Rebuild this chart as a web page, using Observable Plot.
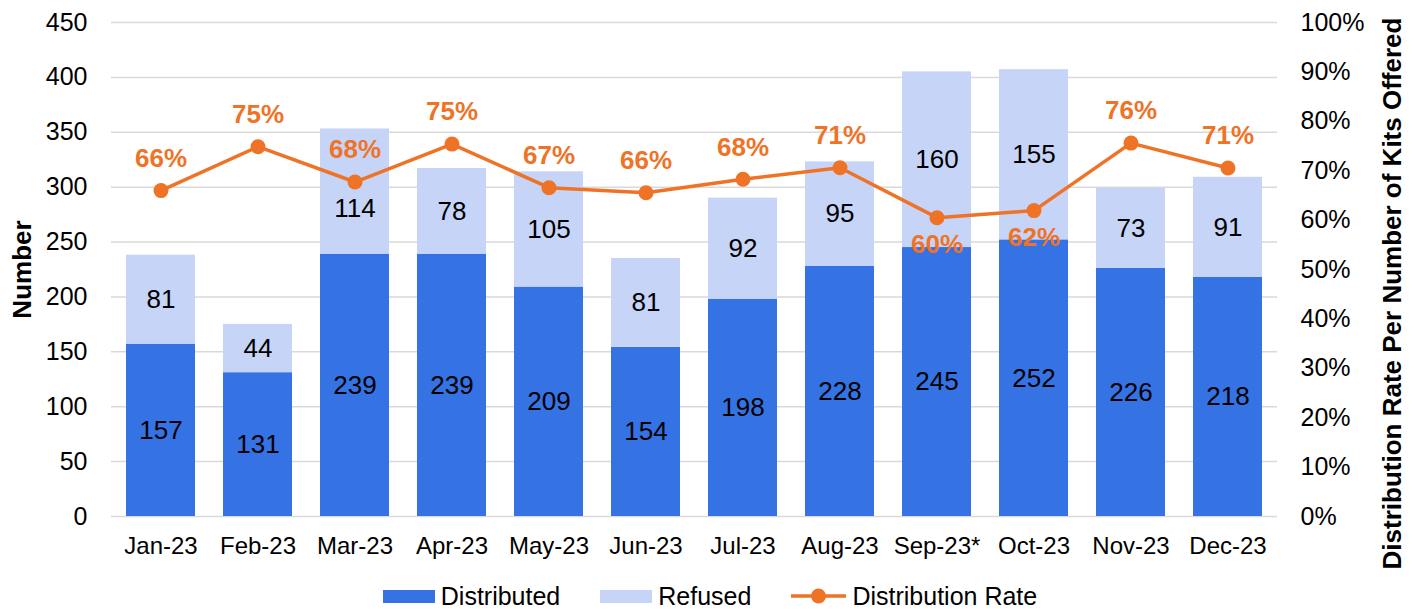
<!DOCTYPE html>
<html>
<head>
<meta charset="utf-8">
<script src="https://cdn.jsdelivr.net/npm/d3@7"></script>
<script src="https://cdn.jsdelivr.net/npm/@observablehq/plot@0.6"></script>
<style>
  html, body { margin: 0; padding: 0; background: #fff; }
  body { width: 1414px; height: 609px; overflow: hidden; font-family: "Liberation Sans", Arial, sans-serif; }
  #chart svg { display: block; }
  #legend { box-sizing: border-box; height: 29px; display: flex; justify-content: center; align-items: center; gap: 40px; font-size: 25px; line-height: 27px; color: #000; padding-top: 3px; padding-left: 6px; }
  .item { display: flex; align-items: center; gap: 6px; }
  .sw { width: 52px; height: 13px; }
</style>
</head>
<body>
<div id="chart"></div>
<div id="legend"></div>
<script>
const months = ["Jan-23","Feb-23","Mar-23","Apr-23","May-23","Jun-23","Jul-23","Aug-23","Sep-23*","Oct-23","Nov-23","Dec-23"];
const distributed = [157,131,239,239,209,154,198,228,245,252,226,218];
const refused = [81,44,114,78,105,81,92,95,160,155,73,91];
const rates = [0.6597,0.7486,0.6771,0.7539,0.6656,0.6553,0.6828,0.7059,0.6049,0.6192,0.7559,0.7055];
const leftTicks = [0,50,100,150,200,250,300,350,400,450];
const rightTicks = [0,0.1,0.2,0.3,0.4,0.5,0.6,0.7,0.8,0.9,1.0];
const seriesNames = ["Distributed","Refused","Distribution Rate"];
const yTitle = "Number";
const y2Title = "Distribution Rate Per Number of Kits Offered";

const colors = {Distributed: "#3572E3", Refused: "#C6D4F8", rate: "#EF7327"};
const yMax = 450;
const labelBelow = new Set(["Sep-23*","Oct-23"]);
const nudgedDown = new Set(["Mar-23|Refused"]);

const long = [];
months.forEach((m, i) => {
  long.push({month: m, series: "Distributed", value: distributed[i]});
  long.push({month: m, series: "Refused", value: refused[i]});
});
const rateRows = months.map((m, i) => ({month: m, rate: rates[i], yv: rates[i] * yMax}));
const pct = d3.format(".0%");
const isNudged = d => nudgedDown.has(d.month + "|" + d.series);

const chart = Plot.plot({
  width: 1414,
  height: 580,
  marginTop: 22,
  marginBottom: 64,
  marginLeft: 111,
  marginRight: 137,
  style: {fontFamily: '"Liberation Sans", Arial, sans-serif', fontSize: "24px", color: "#000", background: "#fff", overflow: "visible"},
  x: {type: "band", domain: months, paddingInner: 0.29, paddingOuter: 0.145, label: null},
  y: {domain: [0, yMax], label: null},
  color: {domain: ["Distributed","Refused"], range: [colors.Distributed, colors.Refused]},
  marks: [
    Plot.gridY({ticks: leftTicks, stroke: "#d9d9d9", strokeOpacity: 1, strokeWidth: 1.5}),
    Plot.barY(long, Plot.stackY({x: "month", y: "value", fill: "series"})),
    Plot.text(long, Plot.stackY({x: "month", y: "value", z: "series", text: d => isNudged(d) ? "" : String(d.value), fontSize: 26, fill: "#000"})),
    Plot.text(long, Plot.stackY({x: "month", y: "value", z: "series", text: d => isNudged(d) ? String(d.value) : "", dy: 17, fontSize: 26, fill: "#000"})),
    Plot.line(rateRows, {x: "month", y: "yv", stroke: colors.rate, strokeWidth: 3.5}),
    Plot.dot(rateRows, {x: "month", y: "yv", r: 7.5, fill: colors.rate, stroke: "none"}),
    Plot.text(rateRows, {filter: d => !labelBelow.has(d.month), x: "month", y: "yv", text: d => pct(d.rate), dy: -32, fontSize: 26, fontWeight: "bold", fill: colors.rate}),
    Plot.text(rateRows, {filter: d => labelBelow.has(d.month), x: "month", y: "yv", text: d => pct(d.rate), dy: 27, fontSize: 26, fontWeight: "bold", fill: colors.rate}),
    Plot.axisY({ticks: leftTicks, tickSize: 0, tickPadding: 24, label: null, fontSize: 25}),
    Plot.axisY({anchor: "right", ticks: rightTicks.map(t => t * yMax), tickFormat: d => Math.round(d / yMax * 100) + "%", tickSize: 0, tickPadding: 23, label: null, fontSize: 25}),
    Plot.axisX({tickSize: 0, tickPadding: 20, label: null, fontSize: 24}),
    Plot.text([yTitle], {text: d => d, frameAnchor: "left", textAnchor: "middle", dx: -89, rotate: -90, fontWeight: "bold", fontSize: 26, fill: "#000"}),
    Plot.text([y2Title], {text: d => d, frameAnchor: "right", textAnchor: "middle", dx: 115, dy: 24, rotate: -90, fontWeight: "bold", fontSize: 26, fill: "#000"})
  ]
});
document.getElementById("chart").appendChild(chart);

// Legend
const legend = document.getElementById("legend");
const items = [
  {name: seriesNames[0], type: "rect", color: colors.Distributed},
  {name: seriesNames[1], type: "rect", color: colors.Refused},
  {name: seriesNames[2], type: "line", color: colors.rate}
];
items.forEach(it => {
  const el = document.createElement("div");
  el.className = "item";
  if (it.type === "rect") {
    const sw = document.createElement("div");
    sw.className = "sw";
    sw.style.background = it.color;
    el.appendChild(sw);
  } else {
    const ns = "http://www.w3.org/2000/svg";
    const svg = document.createElementNS(ns, "svg");
    svg.setAttribute("width", 55); svg.setAttribute("height", 20);
    const ln = document.createElementNS(ns, "line");
    ln.setAttribute("x1", 0); ln.setAttribute("x2", 55); ln.setAttribute("y1", 10); ln.setAttribute("y2", 10);
    ln.setAttribute("stroke", it.color); ln.setAttribute("stroke-width", 3.5);
    const c = document.createElementNS(ns, "circle");
    c.setAttribute("cx", 27.5); c.setAttribute("cy", 10); c.setAttribute("r", 7.5); c.setAttribute("fill", it.color);
    svg.appendChild(ln); svg.appendChild(c);
    el.appendChild(svg);
  }
  const t = document.createElement("span");
  t.textContent = it.name;
  el.appendChild(t);
  legend.appendChild(el);
});
</script>
</body>
</html>
